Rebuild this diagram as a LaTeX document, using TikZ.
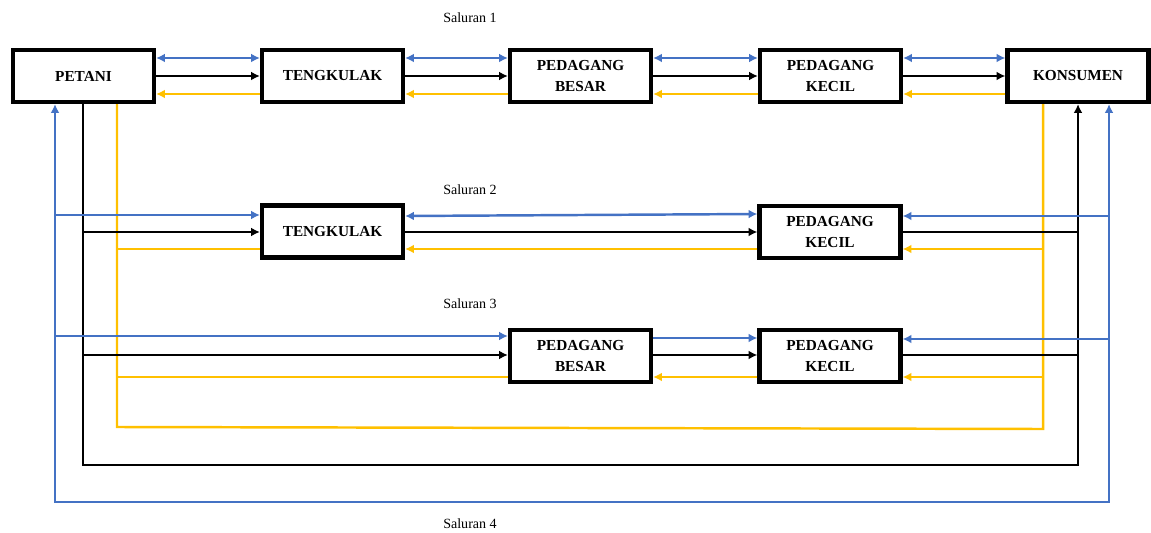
\documentclass[tikz,border=0pt]{standalone}
\usepackage{fontspec}
\setmainfont{Liberation Serif}
\usetikzlibrary{arrows.meta,calc}
\definecolor{lblue}{HTML}{4472C4}
\definecolor{lyellow}{HTML}{FFC000}
\begin{document}
\begin{tikzpicture}[x=0.02cm,y=-0.02cm,
  box/.style={draw=black,line width=2.4pt,minimum width=2.82cm,minimum height=1.04cm,
    inner sep=0pt,align=center,font=\fontsize{8.7}{12}\selectfont\bfseries},
  lbl/.style={font=\fontsize{8}{10}\selectfont},
  tip/.style={arrows={-{Latex[length=5pt,width=5pt]}}},
  btip/.style={arrows={{Latex[length=5pt,width=5pt]}-{Latex[length=5pt,width=5pt]}}},
  bl/.style={draw=lblue,line width=1.4pt},
  bk/.style={draw=black,line width=1.4pt},
  yl/.style={draw=lyellow,line width=1.4pt}]
\useasboundingbox (0,0) rectangle (1151,533);
% boxes
\node[box] (pet) at (83.5,76) {PETANI};
\node[box] (tk1) at (332.5,76) {TENGKULAK};
\node[box] (pb1) at (580.5,76) {PEDAGANG\\BESAR};
\node[box] (pk1) at (830.5,76) {PEDAGANG\\KECIL};
\node[box] (kon) at (1078,76) {KONSUMEN};
\node[box] (tk2) at (332.5,231.5) {TENGKULAK};
\node[box] (pk2) at (830,232) {PEDAGANG\\KECIL};
\node[box] (pb3) at (580.5,356) {PEDAGANG\\BESAR};
\node[box] (pk3) at (830,356) {PEDAGANG\\KECIL};
% labels
\node[lbl] (s1) at (470,18) {Saluran 1};
\node[lbl] (s2) at (470,190) {Saluran 2};
\node[lbl] (s3) at (470,304) {Saluran 3};
\node[lbl] (s4) at (470,524) {Saluran 4};
% bus coordinates
\coordinate (bL) at (55,502);
\coordinate (kL) at (83,465);
\coordinate (yL) at (117,427);
\coordinate (yR) at (1043,429);
\coordinate (kR) at (1078,465);
\coordinate (bR) at (1109,502);
% row 1
\foreach \a/\b in {pet/tk1,tk1/pb1,pb1/pk1,pk1/kon}{
  \draw[bl,btip] (\a.east |- 0,58) -- (\b.west |- 0,58);
  \draw[bk,tip] (\a.east |- 0,76) -- (\b.west |- 0,76);
  \draw[yl,tip] (\b.west |- 0,94) -- (\a.east |- 0,94);
}
% outer loops
\draw[yl] (kon.south -| yR) -- (yR) -- (yL) -- (pet.south -| yL);
\draw[bk,tip] (pet.south -| kL) -- (kL) -- (kR) -- (kon.south -| kR);
\draw[bl,btip] (pet.south -| bL) -- (bL) -- (bR) -- (kon.south -| bR);
% row 2
\draw[bl,tip] (55,215) -- (tk2.west |- 0,215);
\draw[bk,tip] (83,232) -- (tk2.west |- 0,232);
\draw[yl] (tk2.west |- 0,249) -- (117,249);
\draw[bl,btip] (tk2.east |- 0,216) -- (pk2.west |- 0,214);
\draw[bk,tip] (tk2.east |- 0,232) -- (pk2.west |- 0,232);
\draw[yl,tip] (pk2.west |- 0,249) -- (tk2.east |- 0,249);
\draw[bl,tip] (1109,216) -- (pk2.east |- 0,216);
\draw[bk] (pk2.east |- 0,232) -- (1078,232);
\draw[yl,tip] (1043,249) -- (pk2.east |- 0,249);
% row 3
\draw[bl,tip] (55,336) -- (pb3.west |- 0,336);
\draw[bk,tip] (83,355) -- (pb3.west |- 0,355);
\draw[yl] (pb3.west |- 0,377) -- (117,377);
\draw[bl,tip] (pb3.east |- 0,338) -- (pk3.west |- 0,338);
\draw[bk,tip] (pb3.east |- 0,355) -- (pk3.west |- 0,355);
\draw[yl,tip] (pk3.west |- 0,377) -- (pb3.east |- 0,377);
\draw[bl,tip] (1109,339) -- (pk3.east |- 0,339);
\draw[bk] (pk3.east |- 0,355) -- (1078,355);
\draw[yl,tip] (1043,377) -- (pk3.east |- 0,377);
\end{tikzpicture}
\end{document}
